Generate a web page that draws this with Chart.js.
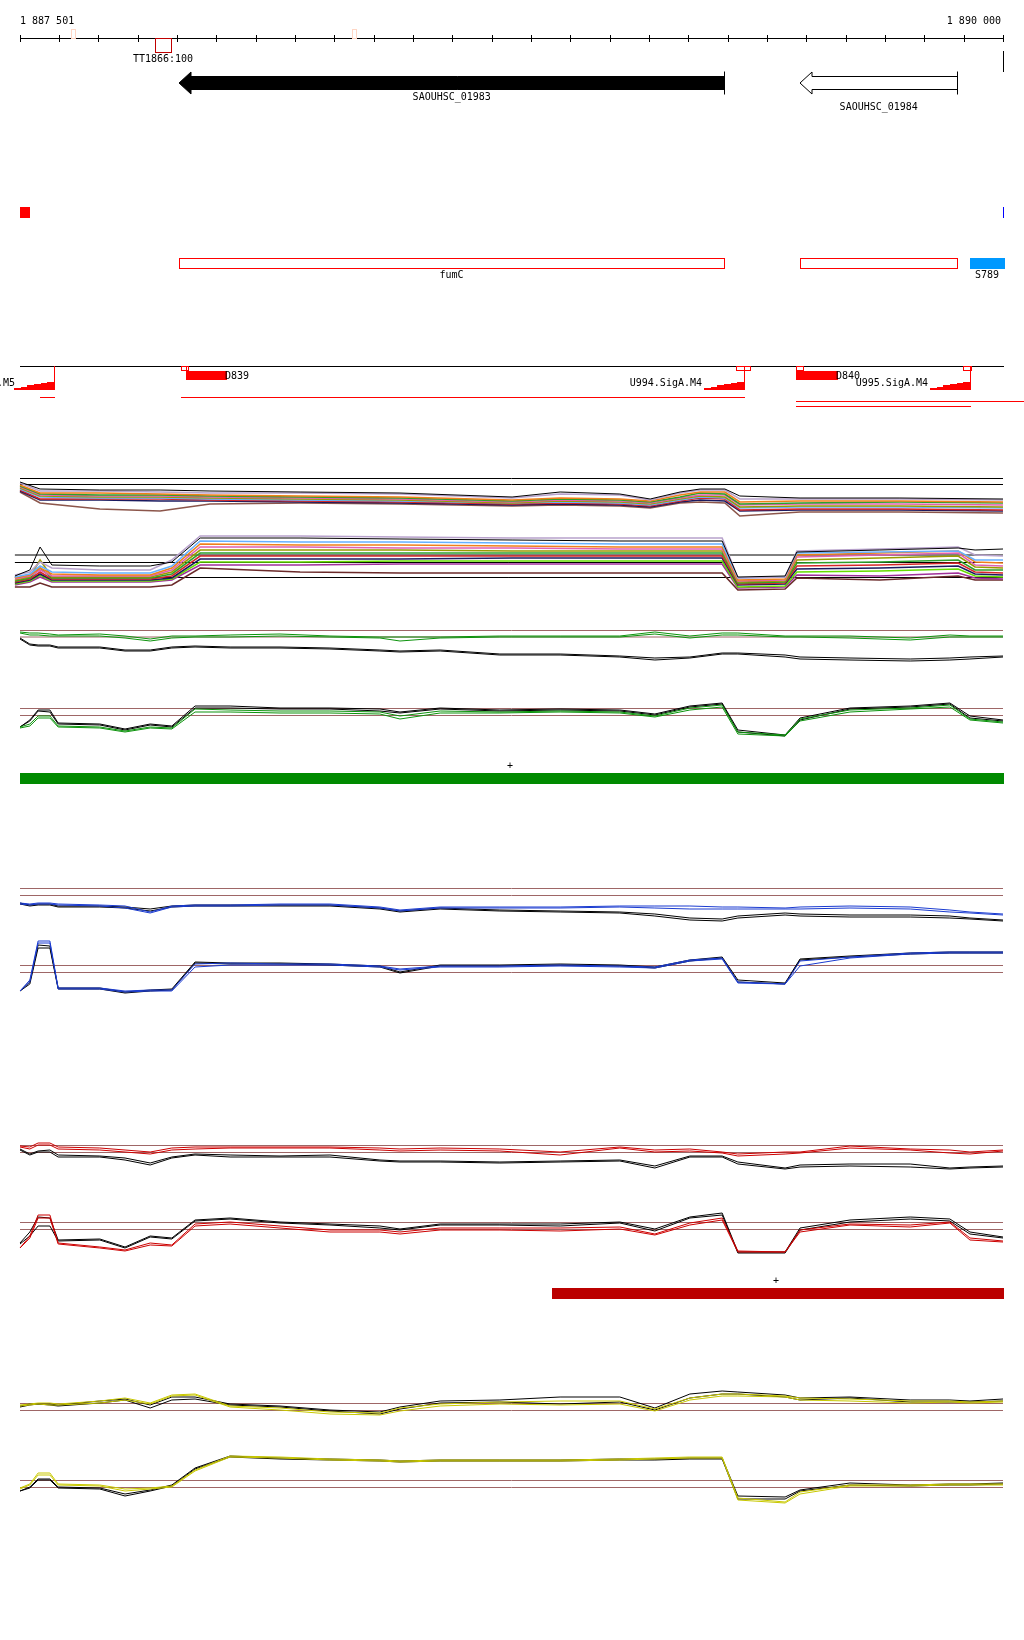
<!DOCTYPE html>
<html>
<head>
<meta charset="utf-8">
<script src="https://cdn.jsdelivr.net/npm/chart.js@4.4.1/dist/chart.umd.min.js"></script>
<style>
  html, body { margin: 0; background: #fff; }
  #page { position: relative; width: 1024px; height: 1640px; overflow: hidden; }
  #page canvas { position: absolute; left: 0; }
</style>
</head>
<body>
<div id="page"></div>
<script>
// ---- genome window ----
const X_START = 1887501, X_END = 1890000;
const rulerLabels = ['1 887 501', '1 890 000'];
const rulerTicks = [1887500, 1887600, 1887700, 1887800, 1887900, 1888000, 1888100, 1888200, 1888300,
  1888400, 1888500, 1888600, 1888700, 1888800, 1888900, 1889000, 1889100, 1889200, 1889300,
  1889400, 1889500, 1889600, 1889700, 1889800, 1889900, 1890000];
const paleMarks = [1887631, 1888345];
const ttName = 'TT1866:100', ttStart = 1887844, ttEnd = 1887885;

// ---- annotation ----
const geneNames = ['SAOUHSC_01983', 'SAOUHSC_01984'];
const geneStart = [1887905, 1889484];
const geneEnd = [1889290, 1889882];
const geneFilled = [true, false];
const featStart = [1887905, 1889484];
const featEnd = [1889290, 1889882];
const featNames = ['fumC', ''];
const srnaName = 'S789', srnaStart = 1889916, srnaEnd = 1890002;
const promoterNames = ['U993.SigA.M5', 'U994.SigA.M4', 'U995.SigA.M4'];
const promoterStart = [1887486, 1889240, 1889814];
const promoterEnd = [1887587, 1889342, 1889916];
const markStart = [1887910, 1889321, 1889474, 1889898];
const markEnd = [1887928, 1889357, 1889491, 1889918];
const markSplit = [1887923, 1889342, 0, 0];
const blockNames = ['D839', 'D840'];
const blockStart = [1887923, 1889474];
const blockEnd = [1888025, 1889578];
const utrStart = [1887552, 1887910, 1889474, 1889474];
const utrEnd = [1887587, 1889342, 1890060, 1889916];
const strandStart = [1887501, 1888853];
const strandEnd = [1890000, 1890000];
const strandPlus = [1888747, 1889423];

// ---- multi-sample profiles ----
const posMultiTop = [1887501, 1887552, 1887704, 1887857, 1887984, 1888213, 1888467, 1888752, 1888874,
  1889026, 1889103, 1889179, 1889230, 1889293, 1889331, 1889484, 1889738, 1890000];
const mTop1 = [8.6, 7.2, 7.0, 7.0, 6.8, 6.6, 6.4, 5.6, 6.6, 6.2, 5.2, 6.6, 7.2, 7.2, 5.8, 5.4, 5.4, 5.2];
const mTop2 = [8.4, 6.8, 6.8, 6.6, 6.4, 6.4, 6.2, 5.4, 6.2, 6.0, 5.0, 6.4, 7.0, 7.0, 5.2, 5.2, 5.2, 5.0];
const mTop3 = [8.0, 6.4, 6.4, 6.2, 6.0, 5.8, 5.6, 5.0, 5.4, 5.2, 4.8, 6.0, 6.6, 6.6, 4.6, 4.8, 4.8, 4.6];
const mTop4 = [7.8, 6.2, 6.0, 6.0, 5.8, 5.6, 5.4, 4.8, 5.2, 5.0, 4.6, 5.6, 6.4, 6.2, 4.2, 4.4, 4.6, 4.4];
const mTop5 = [7.6, 6.0, 5.8, 5.8, 5.6, 5.4, 5.2, 4.6, 5.0, 4.8, 4.4, 5.4, 6.0, 6.0, 4.0, 4.2, 4.2, 4.0];
const mTop6 = [7.4, 5.8, 5.6, 5.6, 5.4, 5.2, 5.0, 4.4, 4.8, 4.6, 4.2, 5.2, 5.8, 5.6, 3.6, 3.8, 3.8, 3.6];
const mTop7 = [7.2, 5.6, 5.4, 5.4, 5.2, 5.0, 4.8, 4.4, 4.6, 4.4, 4.0, 5.0, 5.6, 5.4, 3.4, 3.6, 3.6, 3.4];
const mTop8 = [7.0, 5.2, 5.2, 5.2, 5.0, 4.8, 4.6, 4.2, 4.4, 4.2, 3.8, 4.8, 5.4, 5.2, 3.0, 3.2, 3.2, 3.0];
const mTop9 = [6.8, 5.0, 5.0, 4.8, 4.8, 4.6, 4.4, 4.0, 4.2, 4.0, 3.6, 4.6, 5.0, 4.8, 2.8, 3.0, 3.0, 2.8];
const mTop10 = [6.6, 4.4, 3.2, 2.8, 4.2, 4.4, 4.2, 3.8, 4.0, 3.8, 3.4, 4.4, 4.6, 4.4, 1.8, 2.6, 2.6, 2.4];
const mTopRef = [9.3, 8.1];

const posMultiBot = [1887488, 1887526, 1887552, 1887582, 1887704, 1887832, 1887887, 1887959, 1888213,
  1888467, 1888752, 1889026, 1889286, 1889326, 1889446, 1889476, 1889687, 1889886, 1889929, 1890000];
const mBot1 = [4.8, 6.0, 10.6, 7.0, 6.8, 6.8, 7.6, 12.4, 12.4, 12.2, 12.0, 11.8, 11.8, 4.6, 4.8, 9.6, 10.0, 10.4, 10.0, 10.2];
const mBot2 = [5.0, 5.6, 7.6, 6.4, 6.0, 6.0, 8.0, 12.8, 12.8, 12.6, 12.4, 12.4, 12.4, 4.4, 4.6, 9.8, 10.2, 10.6, 9.0, 8.8];
const mBot3 = [4.6, 5.2, 6.8, 5.6, 5.4, 5.4, 6.8, 11.8, 11.6, 11.6, 11.4, 11.2, 11.2, 4.4, 4.6, 9.4, 9.6, 9.8, 8.0, 8.0];
const mBot4 = [4.4, 5.0, 6.4, 5.2, 5.0, 5.0, 6.4, 11.2, 11.0, 11.0, 10.8, 10.6, 10.6, 4.0, 4.2, 9.0, 9.4, 9.8, 7.6, 7.4];
const mBot5 = [4.2, 4.8, 6.0, 4.8, 4.8, 4.8, 6.0, 10.6, 10.6, 10.4, 10.4, 10.2, 10.2, 3.8, 4.0, 8.6, 9.0, 9.4, 7.0, 6.8];
const mBot6 = [4.0, 4.6, 8.0, 4.6, 4.6, 4.6, 5.6, 10.0, 10.0, 10.0, 9.8, 9.8, 9.8, 3.6, 3.8, 8.0, 8.4, 8.8, 6.6, 6.4];
const mBot7 = [3.8, 4.4, 6.4, 4.4, 4.4, 4.4, 5.2, 9.4, 9.4, 9.4, 9.4, 9.4, 9.4, 3.4, 3.6, 7.4, 7.6, 8.0, 6.0, 6.0];
const mBot8 = [3.6, 4.2, 5.6, 4.2, 4.2, 4.2, 4.8, 8.8, 8.8, 8.8, 8.8, 8.8, 8.8, 3.2, 3.4, 6.8, 7.0, 7.4, 5.6, 5.4];
const mBot9 = [3.4, 4.0, 5.2, 4.0, 4.0, 4.0, 4.4, 8.2, 8.2, 8.2, 8.4, 8.4, 8.4, 3.0, 3.2, 6.2, 6.4, 6.8, 5.2, 5.0];
const mBot10 = [3.2, 3.8, 5.0, 3.8, 3.8, 3.8, 4.2, 7.6, 7.6, 7.8, 7.8, 7.8, 7.8, 2.6, 2.8, 5.6, 5.8, 6.2, 4.8, 4.6];
const mBot11 = [3.0, 3.6, 4.6, 3.6, 3.6, 3.6, 4.0, 7.0, 7.0, 7.2, 7.2, 7.2, 7.2, 2.4, 2.6, 5.0, 4.8, 5.4, 4.4, 4.2];
const mBot12 = [2.6, 2.6, 3.4, 2.6, 2.6, 2.6, 3.0, 6.4, 5.6, 5.4, 5.4, 5.4, 5.4, 2.0, 2.2, 4.4, 4.0, 4.8, 4.0, 4.0];
const mBotRef = [9.0, 7.5, 4.5];

// ---- paired profiles (two conditions, two replicates each) ----
const posPair = [1887501, 1887526, 1887547, 1887577, 1887598, 1887704, 1887768, 1887832, 1887887, 1887946,
  1888035, 1888162, 1888289, 1888416, 1888467, 1888569, 1888721, 1888874, 1889026, 1889115,
  1889204, 1889286, 1889326, 1889446, 1889484, 1889611, 1889764, 1889865, 1889916, 1890000];

const greenTopC1 = [7.6, 7.4, 7.4, 7.2, 7.0, 7.2, 6.8, 6.2, 6.8, 6.8, 7.0, 7.2, 6.8, 6.6, 6.6, 6.6, 6.8, 6.8, 6.8, 7.6, 6.8, 7.4, 7.4, 6.8, 6.8, 6.8, 6.4, 7.0, 6.8, 6.8];
const greenTopC2 = [7.4, 7.0, 7.0, 6.8, 6.8, 6.8, 6.4, 5.8, 6.4, 6.6, 6.6, 6.8, 6.6, 6.4, 5.8, 6.4, 6.6, 6.6, 6.6, 7.2, 6.4, 7.0, 7.0, 6.6, 6.6, 6.4, 6.0, 6.6, 6.6, 6.6];
const greenTopK1 = [6.4, 5.2, 5.0, 5.0, 4.6, 4.6, 4.0, 4.0, 4.6, 4.8, 4.6, 4.6, 4.4, 4.0, 3.8, 4.0, 3.2, 3.2, 2.8, 2.4, 2.6, 3.4, 3.4, 3.0, 2.6, 2.4, 2.2, 2.4, 2.6, 2.8];
const greenTopK2 = [6.2, 5.0, 4.8, 4.8, 4.4, 4.4, 3.8, 3.8, 4.4, 4.6, 4.4, 4.4, 4.2, 3.8, 3.6, 3.8, 3.0, 3.0, 2.6, 2.0, 2.4, 3.2, 3.2, 2.6, 2.2, 2.0, 1.8, 2.0, 2.2, 2.6];
const greenTopRef = [7.9, 6.6];

const greenBotK1 = [2.6, 4.0, 6.0, 6.0, 3.4, 3.2, 2.2, 3.2, 2.8, 6.8, 6.8, 6.4, 6.4, 6.2, 5.6, 6.4, 6.0, 6.2, 6.0, 5.2, 6.8, 7.4, 2.0, 1.0, 4.4, 6.4, 6.8, 7.4, 4.8, 4.0];
const greenBotK2 = [2.6, 3.8, 5.8, 5.6, 3.2, 3.0, 2.0, 3.0, 2.6, 6.4, 6.4, 6.2, 6.2, 5.8, 5.4, 6.2, 5.8, 6.0, 5.8, 5.0, 6.6, 7.2, 1.6, 0.8, 4.0, 6.2, 6.6, 7.2, 4.4, 3.8];
const greenBotC1 = [2.6, 3.2, 4.8, 4.8, 2.8, 2.6, 1.8, 2.6, 2.4, 6.2, 6.0, 5.8, 5.8, 5.6, 4.8, 5.8, 5.6, 5.8, 5.6, 4.8, 6.4, 7.0, 1.6, 1.0, 4.2, 6.0, 6.4, 7.0, 4.2, 3.6];
const greenBotC2 = [2.4, 2.8, 4.4, 4.4, 2.6, 2.4, 1.6, 2.4, 2.2, 5.6, 5.6, 5.4, 5.4, 5.2, 4.2, 5.4, 5.4, 5.6, 5.4, 4.6, 6.0, 6.6, 1.2, 0.8, 3.8, 5.6, 6.2, 6.6, 4.0, 3.4];
const greenBotRef = [6.3, 4.9];

const blueTopC1 = [5.4, 5.2, 5.4, 5.4, 5.2, 5.0, 4.8, 3.6, 4.8, 5.0, 5.0, 5.2, 5.2, 4.6, 4.0, 4.6, 4.6, 4.6, 4.8, 4.8, 4.8, 4.6, 4.6, 4.4, 4.6, 4.8, 4.6, 4.0, 3.6, 3.2];
const blueTopC2 = [5.2, 5.0, 5.2, 5.2, 5.0, 4.8, 4.4, 3.4, 4.6, 4.8, 4.8, 5.0, 5.0, 4.4, 3.8, 4.4, 4.4, 4.4, 4.6, 4.4, 4.2, 4.2, 4.2, 4.2, 4.2, 4.4, 4.2, 3.6, 3.4, 3.0];
const blueTopK1 = [5.4, 5.0, 5.2, 5.2, 4.8, 4.8, 4.6, 4.2, 4.8, 5.0, 5.0, 5.0, 5.0, 4.4, 3.8, 4.4, 4.0, 3.8, 3.6, 3.2, 2.4, 2.2, 2.8, 3.4, 3.2, 3.0, 3.0, 2.8, 2.4, 2.0];
const blueTopK2 = [5.2, 4.8, 5.0, 5.0, 4.6, 4.6, 4.4, 3.8, 4.6, 4.8, 4.8, 4.8, 4.8, 4.2, 3.6, 4.2, 3.8, 3.6, 3.4, 2.8, 2.0, 1.8, 2.4, 3.0, 2.8, 2.6, 2.6, 2.4, 2.2, 1.8];
const blueTopRef = [8.3, 6.9];

const blueBotC1 = [1.8, 4.0, 11.8, 11.8, 2.4, 2.4, 1.8, 2.0, 2.0, 7.2, 7.4, 7.2, 7.2, 6.8, 6.2, 6.8, 6.8, 7.0, 6.8, 6.6, 8.0, 8.4, 3.6, 3.2, 7.8, 8.6, 9.4, 9.6, 9.6, 9.6];
const blueBotC2 = [1.8, 3.6, 11.4, 11.4, 2.2, 2.2, 1.6, 1.8, 1.8, 6.6, 7.0, 7.0, 7.0, 6.6, 6.0, 6.6, 6.6, 6.8, 6.6, 6.4, 7.8, 8.2, 3.4, 3.2, 6.8, 8.4, 9.2, 9.4, 9.4, 9.4];
const blueBotK1 = [1.8, 3.6, 11.0, 10.8, 2.4, 2.4, 1.6, 2.0, 2.2, 7.6, 7.4, 7.4, 7.2, 6.8, 5.6, 7.0, 7.0, 7.2, 7.0, 6.6, 8.0, 8.6, 4.0, 3.4, 8.2, 8.8, 9.4, 9.6, 9.6, 9.6];
const blueBotK2 = [1.8, 3.2, 10.4, 10.4, 2.2, 2.2, 1.4, 1.8, 2.0, 7.4, 7.2, 7.2, 7.0, 6.6, 5.4, 6.8, 6.8, 7.0, 6.8, 6.4, 7.8, 8.4, 3.6, 3.2, 8.0, 8.6, 9.2, 9.4, 9.4, 9.4];
const blueBotRef = [6.9, 5.5];

const redTopC1 = [6.8, 6.6, 7.4, 7.4, 6.6, 6.4, 6.0, 5.6, 6.4, 6.6, 6.6, 6.6, 6.6, 6.4, 6.2, 6.4, 6.2, 5.6, 6.6, 6.0, 6.2, 5.6, 5.2, 5.6, 5.6, 6.8, 6.2, 6.0, 5.6, 6.0];
const redTopC2 = [6.6, 6.2, 7.0, 7.0, 6.2, 6.0, 5.6, 5.2, 6.0, 6.2, 6.4, 6.4, 6.4, 6.0, 5.8, 6.0, 5.8, 5.0, 6.4, 5.6, 5.8, 5.4, 4.8, 5.2, 5.4, 6.4, 6.0, 5.4, 5.2, 5.8];
const redTopK1 = [6.2, 5.2, 5.8, 6.0, 5.0, 4.8, 4.4, 3.4, 4.6, 5.2, 5.0, 4.8, 5.0, 4.0, 3.8, 3.8, 3.6, 3.8, 4.0, 2.8, 4.8, 4.8, 3.6, 2.4, 3.0, 3.2, 3.2, 2.4, 2.6, 2.8];
const redTopK2 = [6.0, 5.0, 5.6, 5.6, 4.6, 4.6, 4.0, 3.0, 4.4, 5.0, 4.6, 4.6, 4.6, 3.8, 3.6, 3.6, 3.4, 3.6, 3.8, 2.4, 4.6, 4.6, 3.2, 2.2, 2.6, 2.8, 2.6, 2.2, 2.4, 2.6];
const redTopRef = [6.9, 5.5];

const redBotC1 = [2.4, 4.8, 9.0, 9.0, 3.4, 2.6, 2.0, 3.4, 3.0, 7.2, 7.6, 6.8, 6.0, 6.0, 5.6, 6.4, 6.4, 6.4, 6.6, 5.2, 7.4, 8.4, 1.8, 1.6, 6.0, 7.2, 7.0, 7.6, 4.4, 3.8];
const redBotC2 = [2.4, 4.4, 8.4, 8.4, 3.2, 2.4, 1.8, 3.0, 2.8, 6.8, 7.2, 6.4, 5.6, 5.6, 5.2, 6.0, 6.0, 5.8, 6.2, 5.0, 7.0, 8.0, 1.6, 1.6, 5.6, 7.0, 6.6, 7.4, 4.0, 3.6];
const redBotK1 = [3.4, 5.6, 8.6, 8.4, 4.0, 4.2, 2.6, 4.8, 4.4, 8.0, 8.4, 7.6, 7.2, 6.8, 6.2, 7.2, 7.2, 7.2, 7.6, 6.2, 8.6, 9.4, 1.6, 1.6, 6.4, 8.0, 8.6, 8.2, 5.6, 4.6];
const redBotK2 = [3.2, 4.8, 6.8, 6.8, 3.8, 4.0, 2.4, 4.6, 4.2, 7.8, 8.2, 7.4, 7.0, 6.4, 6.0, 7.0, 7.0, 6.8, 7.4, 5.8, 8.4, 9.0, 1.4, 1.4, 6.0, 7.6, 8.2, 7.8, 5.2, 4.4];
const redBotRef = [7.5, 6.1];

const yellowTopC1 = [4.0, 4.2, 4.4, 4.4, 4.2, 4.8, 5.4, 4.4, 6.0, 6.2, 3.8, 3.4, 2.6, 2.4, 3.4, 4.2, 4.6, 4.8, 4.8, 3.2, 5.4, 6.2, 6.2, 5.8, 5.4, 5.2, 4.8, 4.8, 4.6, 4.8];
const yellowTopC2 = [3.8, 4.0, 4.2, 4.0, 4.0, 4.4, 5.0, 4.2, 5.8, 6.0, 3.6, 3.0, 2.2, 2.0, 2.8, 3.8, 4.2, 4.0, 4.2, 2.8, 5.0, 5.8, 5.8, 5.6, 5.0, 4.8, 4.4, 4.6, 4.4, 4.6];
const yellowTopK1 = [3.6, 4.0, 4.2, 4.2, 4.0, 4.8, 5.2, 4.0, 5.6, 5.6, 4.2, 3.8, 3.0, 2.6, 3.6, 4.8, 5.0, 5.6, 5.6, 3.4, 6.2, 6.8, 6.6, 6.0, 5.4, 5.6, 5.0, 5.0, 4.8, 5.2];
const yellowTopK2 = [3.8, 4.2, 4.2, 4.0, 3.8, 4.4, 5.0, 3.4, 5.0, 5.2, 4.0, 3.6, 2.8, 2.2, 3.2, 4.4, 4.6, 4.2, 4.6, 3.0, 5.4, 6.2, 6.2, 5.6, 5.0, 5.4, 4.6, 4.6, 4.6, 4.8];
const yellowTopRef = [4.3, 2.9];

const yellowBotC1 = [4.4, 5.2, 7.4, 7.4, 5.2, 5.0, 4.2, 4.4, 4.8, 8.0, 10.8, 10.6, 10.2, 10.0, 9.8, 10.0, 10.0, 10.0, 10.2, 10.4, 10.6, 10.6, 2.4, 1.6, 3.6, 5.0, 5.0, 5.2, 5.2, 5.2];
const yellowBotC2 = [4.2, 5.0, 7.0, 7.0, 5.0, 4.8, 3.8, 4.2, 4.6, 7.8, 10.6, 10.4, 10.0, 9.8, 9.6, 9.8, 9.8, 9.8, 10.0, 10.2, 10.4, 10.4, 2.0, 1.4, 3.2, 4.8, 4.8, 5.0, 5.0, 5.0];
const yellowBotK1 = [3.8, 4.6, 6.2, 6.2, 4.6, 4.4, 3.2, 4.0, 5.0, 8.4, 10.8, 10.4, 10.2, 10.0, 9.8, 10.0, 10.0, 10.0, 10.2, 10.2, 10.4, 10.4, 2.8, 2.6, 4.0, 5.4, 5.0, 5.2, 5.2, 5.4];
const yellowBotK2 = [3.8, 4.4, 6.0, 6.0, 4.4, 4.2, 2.8, 3.8, 4.8, 8.2, 10.6, 10.2, 10.0, 9.8, 9.6, 9.8, 9.8, 9.8, 10.0, 10.0, 10.2, 10.2, 2.2, 2.2, 3.8, 5.0, 4.8, 5.0, 5.0, 5.2];
const yellowBotRef = [5.9, 4.5];

// ---- styling ----
const FONT = '10px "DejaVu Sans Mono", monospace';
const REF_BROWN = '#9e6666';
const multiTopColors = ['#000000', '#b8a2cc', '#f07f1a', '#2ca02c', '#e060b0', '#9a9a00', '#66b0ff', '#d62728', '#1a1a60', '#8c564b'];
const multiBotColors = ['#000000', '#b8a2cc', '#66b0ff', '#f07f1a', '#e060b0', '#9a9a00', '#2ca02c', '#d62728', '#1a1a60', '#66dd00', '#a0309a', '#6b2a2a'];

const page = document.getElementById('page');

function addCanvas(top, height) {
  const c = document.createElement('canvas');
  c.width = 1024;
  c.height = height;
  c.style.top = top + 'px';
  page.appendChild(c);
  return c;
}

function baseOptions(ymax) {
  return {
    responsive: false,
    animation: false,
    devicePixelRatio: 1,
    events: [],
    layout: { padding: { left: 20, right: 21, top: 0, bottom: 0 } },
    plugins: { legend: { display: false }, tooltip: { enabled: false } },
    scales: {
      x: { type: 'linear', min: X_START, max: X_END, display: false },
      y: { type: 'linear', min: 0, max: ymax, display: false }
    },
    elements: { point: { radius: 0 }, line: { borderWidth: 1, tension: 0 } }
  };
}

function series(xs, ys, color, width) {
  return {
    data: xs.map((x, i) => ({ x: x, y: ys[i] })),
    borderColor: color, borderWidth: width || 1, fill: false, clip: false
  };
}

function refLines(values, color, x0, x1) {
  return values.map(v => ({ data: [{ x: x0, y: v }, { x: x1, y: v }], borderColor: color, fill: false, clip: false }));
}

function track(top, height, ymax, datasets) {
  new Chart(addCanvas(top, height), { type: 'line', data: { datasets: datasets }, options: baseOptions(ymax) });
}

// ---- annotation layer (ruler, genes, features, strand bars) ----
const genomePlugin = {
  id: 'genome',
  afterDraw(chart) {
    const ctx = chart.ctx;
    const sx = chart.scales.x;
    const X = v => Math.round(sx.getPixelForValue(v));
    const box = (a, b, y0, y1, color) => {
      ctx.strokeStyle = color;
      ctx.strokeRect(X(a) + 0.5, y0 + 0.5, X(b) - X(a), y1 - y0);
    };
    const fillBox = (a, b, y0, y1, color) => {
      ctx.fillStyle = color;
      ctx.fillRect(X(a), y0, X(b) - X(a) + 1, y1 - y0 + 1);
    };
    const text = (s, x, y, align) => {
      ctx.fillStyle = '#000';
      ctx.textAlign = align;
      ctx.fillText(s, x, y);
    };
    ctx.save();
    ctx.lineWidth = 1;
    ctx.font = FONT;
    ctx.textBaseline = 'middle';

    // ruler
    ctx.strokeStyle = '#000';
    ctx.beginPath();
    ctx.moveTo(X(X_START), 38.5);
    ctx.lineTo(X(X_END) + 1, 38.5);
    rulerTicks.forEach(t => { ctx.moveTo(X(t) + 0.5, 35); ctx.lineTo(X(t) + 0.5, 42); });
    ctx.stroke();
    text(rulerLabels[0], X(X_START), 21, 'left');
    text(rulerLabels[1], X(X_END) - 2, 21, 'right');
    paleMarks.forEach(p => { ctx.strokeStyle = '#ffd6c4'; ctx.strokeRect(X(p) + 0.5, 29.5, 4, 9); });
    box(ttStart, ttEnd, 38, 52, '#c00000');
    text(ttName, (X(ttStart) + X(ttEnd)) / 2, 59, 'center');

    // genes
    const geneLabelY = [97, 107];
    geneStart.forEach((s, i) => {
      const x0 = X(s), x1 = X(geneEnd[i]) + 0.5;
      ctx.beginPath();
      ctx.moveTo(x0, 83);
      ctx.lineTo(x0 + 12, 72);
      ctx.lineTo(x0 + 12, 76.5);
      ctx.lineTo(x1, 76.5);
      ctx.lineTo(x1, 89.5);
      ctx.lineTo(x0 + 12, 89.5);
      ctx.lineTo(x0 + 12, 94);
      ctx.closePath();
      ctx.strokeStyle = '#000';
      ctx.fillStyle = geneFilled[i] ? '#000' : '#fff';
      ctx.fill();
      ctx.stroke();
      ctx.beginPath();
      ctx.moveTo(x1, 71.5);
      ctx.lineTo(x1, 94.5);
      ctx.stroke();
      text(geneNames[i], (x0 + x1) / 2, geneLabelY[i], 'center');
    });
    ctx.strokeStyle = '#000';
    ctx.beginPath();
    ctx.moveTo(X(X_END) + 0.5, 51);
    ctx.lineTo(X(X_END) + 0.5, 72);
    ctx.stroke();

    // small marks row
    fillBox(X_START, 1887524, 207, 217, '#ff0000');
    ctx.strokeStyle = '#0000ff';
    ctx.beginPath();
    ctx.moveTo(X(X_END) + 0.5, 207);
    ctx.lineTo(X(X_END) + 0.5, 218);
    ctx.stroke();

    // features row
    featStart.forEach((s, i) => {
      box(s, featEnd[i], 258, 268, '#ff0000');
      if (featNames[i]) text(featNames[i], (X(s) + X(featEnd[i])) / 2, 275, 'center');
    });
    fillBox(srnaStart, srnaEnd, 258, 268, '#0099ff');
    text(srnaName, (X(srnaStart) + X(srnaEnd)) / 2, 275, 'center');

    // promoter / transcript row
    ctx.strokeStyle = '#000';
    ctx.beginPath();
    ctx.moveTo(X(X_START), 366.5);
    ctx.lineTo(X(X_END) + 1, 366.5);
    ctx.stroke();
    promoterStart.forEach((s, i) => {
      const x0 = X(s), x1 = X(promoterEnd[i]);
      const steps = 6, w = (x1 - x0) / steps;
      ctx.fillStyle = '#ff0000';
      for (let k = 0; k < steps; k++) {
        const h = Math.round((k + 1) * 7 / steps);
        ctx.fillRect(Math.round(x0 + k * w), 389 - h, Math.ceil(w) + 1, h + 1);
      }
      ctx.strokeStyle = '#ff0000';
      ctx.beginPath();
      ctx.moveTo(x1 + 0.5, 366);
      ctx.lineTo(x1 + 0.5, 390);
      ctx.stroke();
      text(promoterNames[i], i === 0 ? x0 + 1 : x0 - 2, 383, 'right');
    });
    markStart.forEach((s, i) => {
      box(s, markEnd[i], 366, 370, '#ff0000');
      if (markSplit[i]) {
        ctx.beginPath();
        ctx.moveTo(X(markSplit[i]) + 0.5, 366);
        ctx.lineTo(X(markSplit[i]) + 0.5, 371);
        ctx.stroke();
      }
    });
    blockStart.forEach((s, i) => {
      fillBox(s, blockEnd[i], 371, 379, '#ff0000');
      text(blockNames[i], X(blockEnd[i]) - 1, 376, 'left');
    });
    const utrY = [397, 397, 401, 406];
    utrStart.forEach((s, i) => {
      ctx.strokeStyle = '#ff0000';
      ctx.beginPath();
      ctx.moveTo(X(s), utrY[i] + 0.5);
      ctx.lineTo(X(utrEnd[i]) + 1, utrY[i] + 0.5);
      ctx.stroke();
    });

    // strand bars
    const barY = [773, 1288], barColor = ['#008a00', '#bb0000'];
    strandStart.forEach((s, i) => {
      fillBox(s, strandEnd[i], barY[i], barY[i] + 10, barColor[i]);
      text('+', X(strandPlus[i]), barY[i] - 7, 'center');
    });
    ctx.restore();
  }
};

new Chart(addCanvas(0, 1640), {
  type: 'line',
  data: { datasets: [] },
  options: baseOptions(1),
  plugins: [genomePlugin]
});

// ---- expression tracks ----
const mTops = [mTop1, mTop2, mTop3, mTop4, mTop5, mTop6, mTop7, mTop8, mTop9, mTop10];
const mBots = [mBot1, mBot2, mBot3, mBot4, mBot5, mBot6, mBot7, mBot8, mBot9, mBot10, mBot11, mBot12];

track(470, 55, 11,
  mTops.map((ys, i) => series(posMultiTop, ys, multiTopColors[i], i === 0 ? 1 : 1.6))
    .concat(refLines(mTopRef, '#000', X_START, X_END)));
track(530, 70, 14,
  mBots.map((ys, i) => series(posMultiBot, ys, multiBotColors[i], i === 0 ? 1 : 1.6))
    .concat(refLines(mBotRef, '#000', 1887488, X_END)));

function pairTrack(top, height, ymax, c1, c2, k1, k2, ref, color) {
  track(top, height, ymax, [
    series(posPair, c1, color),
    series(posPair, c2, color),
    series(posPair, k1, '#000'),
    series(posPair, k2, '#000')
  ].concat(refLines(ref, REF_BROWN, X_START, X_END)));
}

pairTrack(620, 50, 10, greenTopC1, greenTopC2, greenTopK1, greenTopK2, greenTopRef, '#0c930c');
pairTrack(690, 50, 10, greenBotC1, greenBotC2, greenBotK1, greenBotK2, greenBotRef, '#0c930c');
pairTrack(880, 50, 10, blueTopC1, blueTopC2, blueTopK1, blueTopK2, blueTopRef, '#1a3bd0');
pairTrack(930, 70, 14, blueBotC1, blueBotC2, blueBotK1, blueBotK2, blueBotRef, '#1a3bd0');
pairTrack(1135, 45, 9, redTopC1, redTopC2, redTopK1, redTopK2, redTopRef, '#cc0000');
pairTrack(1200, 60, 12, redBotC1, redBotC2, redBotK1, redBotK2, redBotRef, '#cc0000');
pairTrack(1385, 40, 8, yellowTopC1, yellowTopC2, yellowTopK1, yellowTopK2, yellowTopRef, '#c8c800');
pairTrack(1440, 70, 14, yellowBotC1, yellowBotC2, yellowBotK1, yellowBotK2, yellowBotRef, '#c8c800');
</script>
</body>
</html>
